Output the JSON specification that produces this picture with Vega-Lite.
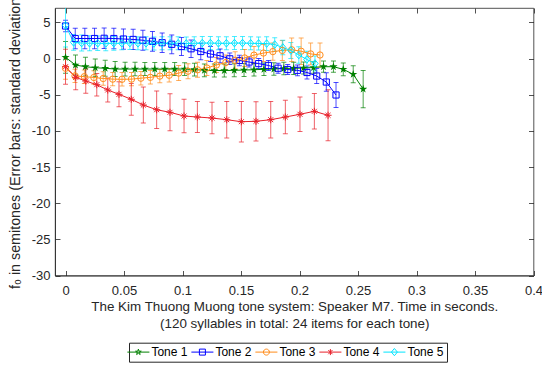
{
  "$schema": "https://vega.github.io/schema/vega-lite/v6.json",
  "width": 478.5,
  "height": 267.5,
  "autosize": {"type": "none"},
  "padding": {"left": 55, "top": 8, "right": 8.5, "bottom": 91.5},
  "background": "white",
  "config": {
    "view": {"stroke": "#262626", "strokeWidth": 0.8},
    "font": "Liberation Sans",
    "axis": {"grid": false, "domainColor": "#262626", "tickColor": "#262626", "labelColor": "#262626", "titleColor": "#262626", "labelFont": "Liberation Sans", "titleFont": "Liberation Sans", "labelFontSize": 13, "titleFontSize": 13.4, "titleFontWeight": "normal", "tickSize": -5, "domainWidth": 0.8, "tickWidth": 0.8, "labelFlush": false, "labelOverlap": false}
  },
  "datasets": {
    "d": [
      {"tone": "Tone 1", "t": 0, "f0": 0.18, "sd": 2.2},
      {"tone": "Tone 1", "t": 0.0085, "f0": -0.89, "sd": 1.38},
      {"tone": "Tone 1", "t": 0.017, "f0": -1.12, "sd": 1.3},
      {"tone": "Tone 1", "t": 0.0254, "f0": -1.26, "sd": 1.2},
      {"tone": "Tone 1", "t": 0.0339, "f0": -1.34, "sd": 1.1},
      {"tone": "Tone 1", "t": 0.0424, "f0": -1.44, "sd": 1.04},
      {"tone": "Tone 1", "t": 0.0509, "f0": -1.44, "sd": 0.95},
      {"tone": "Tone 1", "t": 0.0594, "f0": -1.44, "sd": 0.92},
      {"tone": "Tone 1", "t": 0.0678, "f0": -1.44, "sd": 0.9},
      {"tone": "Tone 1", "t": 0.0763, "f0": -1.44, "sd": 0.9},
      {"tone": "Tone 1", "t": 0.0848, "f0": -1.44, "sd": 0.9},
      {"tone": "Tone 1", "t": 0.0933, "f0": -1.44, "sd": 0.9},
      {"tone": "Tone 1", "t": 0.1018, "f0": -1.44, "sd": 0.88},
      {"tone": "Tone 1", "t": 0.1102, "f0": -1.51, "sd": 0.88},
      {"tone": "Tone 1", "t": 0.1187, "f0": -1.62, "sd": 0.88},
      {"tone": "Tone 1", "t": 0.1272, "f0": -1.65, "sd": 0.9},
      {"tone": "Tone 1", "t": 0.1357, "f0": -1.65, "sd": 0.9},
      {"tone": "Tone 1", "t": 0.1442, "f0": -1.62, "sd": 0.9},
      {"tone": "Tone 1", "t": 0.1526, "f0": -1.58, "sd": 0.9},
      {"tone": "Tone 1", "t": 0.1611, "f0": -1.54, "sd": 0.88},
      {"tone": "Tone 1", "t": 0.1696, "f0": -1.48, "sd": 0.86},
      {"tone": "Tone 1", "t": 0.1781, "f0": -1.44, "sd": 0.85},
      {"tone": "Tone 1", "t": 0.1866, "f0": -1.37, "sd": 0.85},
      {"tone": "Tone 1", "t": 0.195, "f0": -1.34, "sd": 0.85},
      {"tone": "Tone 1", "t": 0.2035, "f0": -1.3, "sd": 0.82},
      {"tone": "Tone 1", "t": 0.212, "f0": -1.23, "sd": 0.8},
      {"tone": "Tone 1", "t": 0.2205, "f0": -1.12, "sd": 0.78},
      {"tone": "Tone 1", "t": 0.229, "f0": -1.12, "sd": 0.78},
      {"tone": "Tone 1", "t": 0.2374, "f0": -1.48, "sd": 0.88},
      {"tone": "Tone 1", "t": 0.2459, "f0": -2.17, "sd": 1.18},
      {"tone": "Tone 1", "t": 0.2544, "f0": -4.22, "sd": 2.59},
      {"tone": "Tone 2", "t": 0, "f0": 4.51, "sd": 0.8},
      {"tone": "Tone 2", "t": 0.0083, "f0": 2.78, "sd": 1.42},
      {"tone": "Tone 2", "t": 0.0165, "f0": 2.78, "sd": 1.42},
      {"tone": "Tone 2", "t": 0.0248, "f0": 2.78, "sd": 1.42},
      {"tone": "Tone 2", "t": 0.033, "f0": 2.81, "sd": 1.42},
      {"tone": "Tone 2", "t": 0.0413, "f0": 2.78, "sd": 1.42},
      {"tone": "Tone 2", "t": 0.0495, "f0": 2.71, "sd": 1.4},
      {"tone": "Tone 2", "t": 0.0578, "f0": 2.65, "sd": 1.4},
      {"tone": "Tone 2", "t": 0.0661, "f0": 2.54, "sd": 1.38},
      {"tone": "Tone 2", "t": 0.0743, "f0": 2.39, "sd": 1.36},
      {"tone": "Tone 2", "t": 0.0826, "f0": 2.2, "sd": 1.34},
      {"tone": "Tone 2", "t": 0.0908, "f0": 1.98, "sd": 1.3},
      {"tone": "Tone 2", "t": 0.0991, "f0": 1.67, "sd": 1.25},
      {"tone": "Tone 2", "t": 0.1073, "f0": 1.36, "sd": 1.2},
      {"tone": "Tone 2", "t": 0.1156, "f0": 0.98, "sd": 1.15},
      {"tone": "Tone 2", "t": 0.1239, "f0": 0.64, "sd": 1.04},
      {"tone": "Tone 2", "t": 0.1321, "f0": 0.39, "sd": 0.95},
      {"tone": "Tone 2", "t": 0.1404, "f0": -0.03, "sd": 0.8},
      {"tone": "Tone 2", "t": 0.1486, "f0": -0.26, "sd": 0.72},
      {"tone": "Tone 2", "t": 0.1569, "f0": -0.47, "sd": 0.69},
      {"tone": "Tone 2", "t": 0.1651, "f0": -0.69, "sd": 0.69},
      {"tone": "Tone 2", "t": 0.1734, "f0": -0.95, "sd": 0.69},
      {"tone": "Tone 2", "t": 0.1817, "f0": -1.33, "sd": 0.69},
      {"tone": "Tone 2", "t": 0.1899, "f0": -1.51, "sd": 0.69},
      {"tone": "Tone 2", "t": 0.1982, "f0": -1.62, "sd": 0.75},
      {"tone": "Tone 2", "t": 0.2064, "f0": -1.92, "sd": 0.9},
      {"tone": "Tone 2", "t": 0.2147, "f0": -2.41, "sd": 1.04},
      {"tone": "Tone 2", "t": 0.2229, "f0": -3.24, "sd": 1.27},
      {"tone": "Tone 2", "t": 0.2312, "f0": -5.03, "sd": 1.73},
      {"tone": "Tone 3", "t": 0, "f0": -1.34, "sd": 1.52},
      {"tone": "Tone 3", "t": 0.0081, "f0": -2.39, "sd": 0.93},
      {"tone": "Tone 3", "t": 0.0161, "f0": -2.5, "sd": 0.93},
      {"tone": "Tone 3", "t": 0.0242, "f0": -2.61, "sd": 0.93},
      {"tone": "Tone 3", "t": 0.0322, "f0": -2.75, "sd": 0.93},
      {"tone": "Tone 3", "t": 0.0403, "f0": -2.84, "sd": 0.93},
      {"tone": "Tone 3", "t": 0.0483, "f0": -2.86, "sd": 0.93},
      {"tone": "Tone 3", "t": 0.0564, "f0": -2.84, "sd": 0.93},
      {"tone": "Tone 3", "t": 0.0644, "f0": -2.71, "sd": 0.93},
      {"tone": "Tone 3", "t": 0.0725, "f0": -2.59, "sd": 0.93},
      {"tone": "Tone 3", "t": 0.0806, "f0": -2.42, "sd": 0.93},
      {"tone": "Tone 3", "t": 0.0886, "f0": -2.3, "sd": 0.93},
      {"tone": "Tone 3", "t": 0.0967, "f0": -2.0, "sd": 1.04},
      {"tone": "Tone 3", "t": 0.1047, "f0": -1.74, "sd": 1.04},
      {"tone": "Tone 3", "t": 0.1128, "f0": -1.55, "sd": 1.04},
      {"tone": "Tone 3", "t": 0.1208, "f0": -1.3, "sd": 1.04},
      {"tone": "Tone 3", "t": 0.1289, "f0": -0.89, "sd": 1.04},
      {"tone": "Tone 3", "t": 0.137, "f0": -0.54, "sd": 1.04},
      {"tone": "Tone 3", "t": 0.145, "f0": -0.24, "sd": 1.18},
      {"tone": "Tone 3", "t": 0.1531, "f0": 0.09, "sd": 1.18},
      {"tone": "Tone 3", "t": 0.1611, "f0": 0.48, "sd": 1.18},
      {"tone": "Tone 3", "t": 0.1692, "f0": 0.77, "sd": 1.18},
      {"tone": "Tone 3", "t": 0.1772, "f0": 0.97, "sd": 1.18},
      {"tone": "Tone 3", "t": 0.1853, "f0": 1.13, "sd": 1.38},
      {"tone": "Tone 3", "t": 0.1933, "f0": 1.22, "sd": 1.62},
      {"tone": "Tone 3", "t": 0.2014, "f0": 1.02, "sd": 1.84},
      {"tone": "Tone 3", "t": 0.2095, "f0": 0.65, "sd": 1.5},
      {"tone": "Tone 3", "t": 0.2175, "f0": 0.5, "sd": 1.66},
      {"tone": "Tone 4", "t": 0, "f0": -1.12, "sd": 2.42},
      {"tone": "Tone 4", "t": 0.0087, "f0": -2.59, "sd": 1.73},
      {"tone": "Tone 4", "t": 0.0173, "f0": -3.1, "sd": 1.69},
      {"tone": "Tone 4", "t": 0.0267, "f0": -3.61, "sd": 1.56},
      {"tone": "Tone 4", "t": 0.0361, "f0": -4.34, "sd": 1.66},
      {"tone": "Tone 4", "t": 0.0457, "f0": -4.94, "sd": 1.73},
      {"tone": "Tone 4", "t": 0.0562, "f0": -5.63, "sd": 2.19},
      {"tone": "Tone 4", "t": 0.0665, "f0": -6.42, "sd": 2.49},
      {"tone": "Tone 4", "t": 0.0779, "f0": -7.07, "sd": 2.6},
      {"tone": "Tone 4", "t": 0.0893, "f0": -7.43, "sd": 2.56},
      {"tone": "Tone 4", "t": 0.1013, "f0": -7.94, "sd": 2.32},
      {"tone": "Tone 4", "t": 0.1127, "f0": -8.08, "sd": 2.14},
      {"tone": "Tone 4", "t": 0.1252, "f0": -8.22, "sd": 2.19},
      {"tone": "Tone 4", "t": 0.1378, "f0": -8.45, "sd": 2.53},
      {"tone": "Tone 4", "t": 0.1503, "f0": -8.73, "sd": 2.79},
      {"tone": "Tone 4", "t": 0.1628, "f0": -8.67, "sd": 2.72},
      {"tone": "Tone 4", "t": 0.1754, "f0": -8.45, "sd": 2.52},
      {"tone": "Tone 4", "t": 0.1879, "f0": -8.08, "sd": 2.31},
      {"tone": "Tone 4", "t": 0.2004, "f0": -7.7, "sd": 2.38},
      {"tone": "Tone 4", "t": 0.2127, "f0": -7.29, "sd": 2.45},
      {"tone": "Tone 4", "t": 0.2244, "f0": -7.84, "sd": 3.53},
      {"tone": "Tone 5", "t": 0, "f0": 4.6, "sd": 3.0},
      {"tone": "Tone 5", "t": 0.0069, "f0": 2.25, "sd": 1.1},
      {"tone": "Tone 5", "t": 0.0138, "f0": 2.15, "sd": 1.1},
      {"tone": "Tone 5", "t": 0.0206, "f0": 2.12, "sd": 1.05},
      {"tone": "Tone 5", "t": 0.0275, "f0": 2.12, "sd": 1.0},
      {"tone": "Tone 5", "t": 0.0344, "f0": 2.1, "sd": 1.0},
      {"tone": "Tone 5", "t": 0.0413, "f0": 2.12, "sd": 0.95},
      {"tone": "Tone 5", "t": 0.0481, "f0": 2.12, "sd": 0.9},
      {"tone": "Tone 5", "t": 0.055, "f0": 2.15, "sd": 0.9},
      {"tone": "Tone 5", "t": 0.0619, "f0": 2.12, "sd": 0.9},
      {"tone": "Tone 5", "t": 0.0688, "f0": 2.12, "sd": 0.9},
      {"tone": "Tone 5", "t": 0.0756, "f0": 2.1, "sd": 0.9},
      {"tone": "Tone 5", "t": 0.0825, "f0": 2.12, "sd": 0.9},
      {"tone": "Tone 5", "t": 0.0894, "f0": 2.12, "sd": 0.9},
      {"tone": "Tone 5", "t": 0.0963, "f0": 2.12, "sd": 0.9},
      {"tone": "Tone 5", "t": 0.1032, "f0": 2.1, "sd": 0.9},
      {"tone": "Tone 5", "t": 0.11, "f0": 2.12, "sd": 0.9},
      {"tone": "Tone 5", "t": 0.1169, "f0": 2.15, "sd": 0.9},
      {"tone": "Tone 5", "t": 0.1238, "f0": 2.15, "sd": 0.9},
      {"tone": "Tone 5", "t": 0.1307, "f0": 2.12, "sd": 0.9},
      {"tone": "Tone 5", "t": 0.1375, "f0": 2.12, "sd": 0.9},
      {"tone": "Tone 5", "t": 0.1444, "f0": 2.15, "sd": 0.9},
      {"tone": "Tone 5", "t": 0.1513, "f0": 2.15, "sd": 0.9},
      {"tone": "Tone 5", "t": 0.1582, "f0": 2.12, "sd": 0.9},
      {"tone": "Tone 5", "t": 0.165, "f0": 2.1, "sd": 0.9},
      {"tone": "Tone 5", "t": 0.1719, "f0": 2.08, "sd": 0.95},
      {"tone": "Tone 5", "t": 0.1788, "f0": 1.95, "sd": 0.95},
      {"tone": "Tone 5", "t": 0.1857, "f0": 1.54, "sd": 1.0},
      {"tone": "Tone 5", "t": 0.1926, "f0": 1.12, "sd": 1.1},
      {"tone": "Tone 5", "t": 0.1994, "f0": 0.5, "sd": 1.15},
      {"tone": "Tone 5", "t": 0.2063, "f0": -0.12, "sd": 1.15},
      {"tone": "Tone 5", "t": 0.2132, "f0": -0.68, "sd": 1.05}
    ]
  },
  "resolve": {"axis": {"x": "independent", "y": "independent"}, "scale": {"color": "independent", "shape": "independent"}},
  "layer": [
    {
      "data": {"name": "d"},
      "mark": {"type": "point", "filled": false, "strokeWidth": 1, "size": 36, "opacity": 0, "clip": true},
      "encoding": {
        "x": {"field": "t", "type": "quantitative", "scale": {"domain": [-0.009, 0.4], "nice": false, "zero": false},
          "axis": {"orient": "top", "labels": false, "domain": false, "title": null, "values": [0, 0.05, 0.1, 0.15, 0.2, 0.25, 0.3, 0.35, 0.4]}},
        "y": {"field": "f0", "type": "quantitative", "scale": {"domain": [-30, 7], "nice": false, "zero": false},
          "axis": {"orient": "right", "labels": false, "domain": false, "title": null, "values": [-30, -25, -20, -15, -10, -5, 0, 5]}},
        "color": {"field": "tone", "type": "nominal",
          "scale": {"domain": ["Tone 1", "Tone 2", "Tone 3", "Tone 4", "Tone 5"], "range": ["#008000", "#0000ff", "#ff8c1a", "#e8202a", "#00e5ff"]},
          "legend": {"orient": "none", "legendX": 74, "legendY": 334.7, "direction": "horizontal", "columns": 5, "title": null,
            "strokeColor": "#262626", "fillColor": "white", "padding": 3.4, "columnPadding": 0, "labelOffset": 7,
            "labelFont": "Liberation Sans", "labelFontSize": 12, "labelColor": "#000000", "symbolStrokeWidth": 1, "symbolOpacity": 1,
            "symbolSize": 36, "symbolFillColor": "transparent"}},
        "shape": {"field": "tone", "type": "nominal",
          "scale": {"domain": ["Tone 1", "Tone 2", "Tone 3", "Tone 4", "Tone 5"],
            "range": [
              "M-3.67,0H3.67M0,-1L0.2245,-0.309L0.951,-0.309L0.363,0.118L0.588,0.809L0,0.382L-0.588,0.809L-0.363,0.118L-0.951,-0.309L-0.2245,-0.309Z",
              "M-3.67,0H3.67M-1,-1H1V1H-1Z",
              "M-3.67,0H3.67M1,0A1,1,0,1,1,-1,0A1,1,0,1,1,1,0Z",
              "M-3.67,0H3.67M0,-1V1M-0.7,-0.7L0.7,0.7M-0.7,0.7L0.7,-0.7",
              "M-3.67,0H3.67M0,-1.2L1,0L0,1.2L-1,0Z"
            ]},
          "legend": {"orient": "none", "legendX": 74, "legendY": 334.7, "direction": "horizontal", "columns": 5, "title": null,
            "strokeColor": "#262626", "fillColor": "white", "padding": 3.4, "columnPadding": 0, "labelOffset": 7,
            "labelFont": "Liberation Sans", "labelFontSize": 12, "labelColor": "#000000", "symbolStrokeWidth": 1, "symbolOpacity": 1,
            "symbolSize": 36, "symbolFillColor": "transparent"}}
      }
    },
    {
      "data": {"name": "d"},
      "mark": {"type": "errorbar", "ticks": {"size": 5}, "clip": true, "opacity": 0.7, "thickness": 1},
      "encoding": {
        "x": {"field": "t", "type": "quantitative",
          "axis": {"orient": "bottom", "values": [0, 0.05, 0.1, 0.15, 0.2, 0.25, 0.3, 0.35, 0.4], "format": "~g", "labelPadding": 14,
            "title": ["The Kim Thuong Muong tone system: Speaker M7. Time in seconds.", "(120 syllables in total: 24 items for each tone)"],
            "titleY": 35, "titleBaseline": "alphabetic", "titleLineHeight": 17, "titleLimit": 1000}},
        "y": {"field": "f0", "type": "quantitative",
          "axis": {"orient": "left", "values": [-30, -25, -20, -15, -10, -5, 0, 5], "labelPadding": 10,
            "labelExpr": "replace(datum.label, '\u2212', '-')",
            "title": "f\u2080 in semitones (Error bars: standard deviation)",
            "titleFontSize": 14.3,
            "titleX": -40, "titleY": 132.5, "titleAngle": -90, "titleBaseline": "middle", "titleAlign": "center", "titleLimit": 1000}},
        "yError": {"field": "sd"},
        "color": {"field": "tone", "type": "nominal",
          "scale": {"domain": ["Tone 1", "Tone 2", "Tone 3", "Tone 4", "Tone 5"], "range": ["#008000", "#0000ff", "#ff8c1a", "#e8202a", "#00e5ff"]},
          "legend": null}
      }
    },
    {
      "data": {"name": "d"},
      "mark": {"type": "line", "strokeWidth": 1, "clip": true},
      "encoding": {
        "x": {"field": "t", "type": "quantitative", "axis": null},
        "y": {"field": "f0", "type": "quantitative", "axis": null},
        "color": {"field": "tone", "type": "nominal",
          "scale": {"domain": ["Tone 1", "Tone 2", "Tone 3", "Tone 4", "Tone 5"], "range": ["#008000", "#0000ff", "#ff8c1a", "#e8202a", "#00e5ff"]},
          "legend": null}
      }
    },
    {
      "data": {"name": "d"},
      "transform": [{"filter": "datum.tone === 'Tone 1'"}],
      "mark": {"type": "point", "shape": "M0,-1L0.2245,-0.309L0.951,-0.309L0.363,0.118L0.588,0.809L0,0.382L-0.588,0.809L-0.363,0.118L-0.951,-0.309L-0.2245,-0.309Z", "filled": true, "color": "#008000", "size": 75, "opacity": 1, "clip": true},
      "encoding": {
        "x": {"field": "t", "type": "quantitative", "axis": null},
        "y": {"field": "f0", "type": "quantitative", "axis": null}
      }
    },
    {
      "data": {"name": "d"},
      "transform": [{"filter": "datum.tone === 'Tone 2'"}],
      "mark": {"type": "point", "shape": "square", "filled": false, "color": "#0000ff", "size": 38, "strokeWidth": 1, "opacity": 1, "clip": true},
      "encoding": {
        "x": {"field": "t", "type": "quantitative", "axis": null},
        "y": {"field": "f0", "type": "quantitative", "axis": null}
      }
    },
    {
      "data": {"name": "d"},
      "transform": [{"filter": "datum.tone === 'Tone 3'"}],
      "mark": {"type": "point", "shape": "circle", "filled": false, "color": "#ff8c1a", "size": 40, "strokeWidth": 1, "opacity": 1, "clip": true},
      "encoding": {
        "x": {"field": "t", "type": "quantitative", "axis": null},
        "y": {"field": "f0", "type": "quantitative", "axis": null}
      }
    },
    {
      "data": {"name": "d"},
      "transform": [{"filter": "datum.tone === 'Tone 4'"}],
      "mark": {"type": "point", "shape": "M0,-1V1M-1,0H1M-0.7,-0.7L0.7,0.7M-0.7,0.7L0.7,-0.7", "filled": false, "color": "#e8202a", "size": 50, "strokeWidth": 1, "opacity": 1, "clip": true},
      "encoding": {
        "x": {"field": "t", "type": "quantitative", "axis": null},
        "y": {"field": "f0", "type": "quantitative", "axis": null}
      }
    },
    {
      "data": {"name": "d"},
      "transform": [{"filter": "datum.tone === 'Tone 5'"}],
      "mark": {"type": "point", "shape": "M0,-1.2L1,0L0,1.2L-1,0Z", "filled": false, "color": "#00e5ff", "size": 40, "strokeWidth": 1, "opacity": 1, "clip": true},
      "encoding": {
        "x": {"field": "t", "type": "quantitative", "axis": null},
        "y": {"field": "f0", "type": "quantitative", "axis": null}
      }
    }
  ]
}
